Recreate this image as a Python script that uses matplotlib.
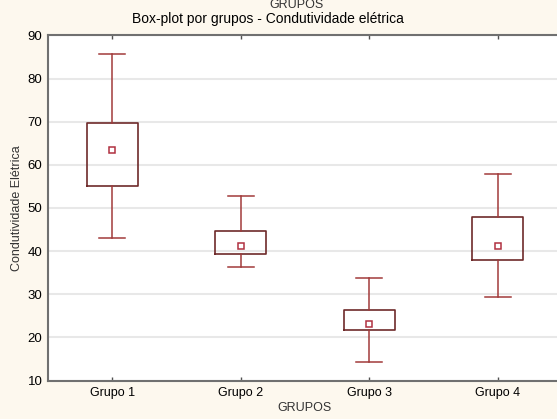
import matplotlib
matplotlib.use("Agg")
import matplotlib.pyplot as plt

plt.rcParams['font.family'] = ['Liberation Sans', 'DejaVu Sans']

groups = ["Grupo 1", "Grupo 2", "Grupo 3", "Grupo 4"]
whisker_low = [43.0, 36.3, 14.2, 29.3]
q1 = [55.0, 39.4, 21.6, 37.9]
q3 = [69.6, 44.7, 26.4, 48.0]
whisker_high = [85.8, 52.8, 33.7, 57.8]
means = [63.5, 41.2, 23.0, 41.2]

stats = []
for g, lo, a, b, hi, m in zip(groups, whisker_low, q1, q3, whisker_high, means):
    stats.append(dict(label=g, whislo=lo, q1=a, med=m, q3=b, whishi=hi, mean=m, fliers=[]))

bg = '#fdf8ee'
box_col = '#6e2a2a'
whisk_col = '#a23a3a'

fig = plt.figure(figsize=(5.57, 4.19), dpi=100, facecolor=bg)
ax = fig.add_axes([48 / 557, 1 - 380.5 / 419, (562 - 48) / 557, (380.5 - 35.5) / 419])
ax.set_facecolor('white')

positions = list(range(1, len(groups) + 1))
ax.bxp(stats, positions=positions, widths=0.4, showmeans=True, showfliers=False,
       boxprops=dict(color=box_col, linewidth=1.2),
       whiskerprops=dict(color=whisk_col, linewidth=1.1),
       capprops=dict(color=whisk_col, linewidth=1.1),
       medianprops=dict(linewidth=0),
       meanprops=dict(marker='s', markersize=4.5, markerfacecolor='white',
                      markeredgecolor='#b03040', markeredgewidth=1.1),
       capwidths=0.2, zorder=3)

ax.set_xlim(0.5, 4.5)
ax.set_ylim(10, 90)
ax.set_yticks(range(10, 91, 10))
ax.set_xticks(positions)
ax.set_xticklabels(groups)
ax.yaxis.grid(True, color='#e8e8e8', linewidth=1.5, zorder=0)
ax.set_axisbelow(True)

for side in ['left', 'bottom', 'top']:
    ax.spines[side].set_color('#707070')
    ax.spines[side].set_linewidth(1.5)
ax.spines['right'].set_visible(False)

ax.tick_params(axis='x', direction='in', length=3, width=1, color='#505050',
               labelsize=9, pad=5, top=True)
ax.tick_params(axis='y', length=0, labelsize=9.5, pad=4)

ax.set_xlabel('GRUPOS', fontsize=9, color='#333333', labelpad=2)
ax.set_ylabel('Condutividade Elétrica', fontsize=9, color='#333333', labelpad=3)

fig.text(297 / 557, 1 - 5 / 419, 'GRUPOS', ha='center', va='center', fontsize=9, color='#333333')
fig.text(268 / 557, 1 - 18.5 / 419, 'Box-plot por grupos - Condutividade elétrica',
         ha='center', va='center', fontsize=10, color='black')

fig.savefig('out.png', dpi=100, facecolor=bg)
